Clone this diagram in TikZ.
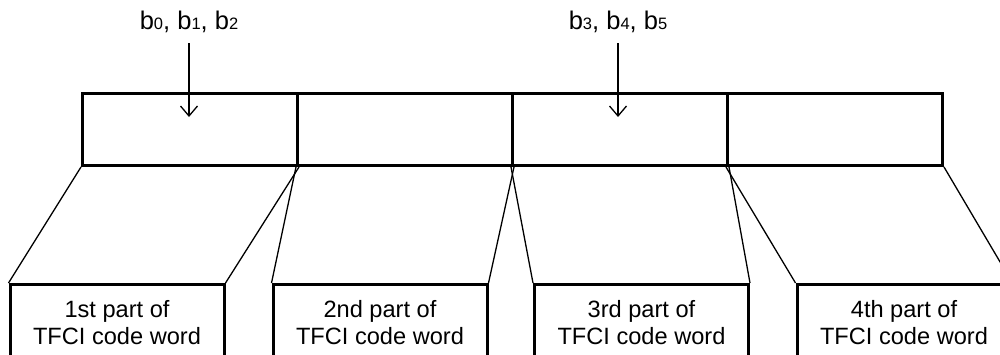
\documentclass[tikz,border=0pt]{standalone}
\usepackage{fontspec}
\setmainfont{Liberation Sans}
\usetikzlibrary{arrows.meta}
\newcommand\sbx[1]{{\fontsize{16.5}{16.5}\selectfont #1}}
\begin{document}
\begin{tikzpicture}[x=1pt,y=-1pt,
  part/.style={draw, line width=3pt, minimum width=215pt, minimum height=72pt, inner sep=0pt, anchor=north west},
  piece/.style={draw, line width=3pt, minimum width=214pt, minimum height=77pt, inner sep=0pt, anchor=north,
    align=center, font=\fontsize{23.6}{27}\selectfont},
  lab/.style={inner sep=0pt, anchor=base, font=\fontsize{25.5}{28}\selectfont},
  thin/.style={line width=1.3pt},
  arr/.style={line width=1.3pt, -{Straight Barb[length=10pt,width=17pt,line width=1.3pt]}}]
\clip (0,0) rectangle (1000,354);
% top row
\node[part] (t1) at (81,92) {};
\node[part] (t2) at (296,92) {};
\node[part] (t3) at (511,92) {};
\node[part] (t4) at (726,92) {};
% bottom pieces
\node[piece] (p1) at (117,283) {1st part of\\TFCI code word};
\node[piece] (p2) at (380,283) {2nd part of\\TFCI code word};
\node[piece] (p3) at (641.5,283) {3rd part of\\TFCI code word};
\node[piece] (p4) at (904,283) {4th part of\\TFCI code word};
% diagonals
\foreach \i in {1,2,3,4}{
  \draw[thin] (t\i.south west) -- (p\i.north west);
  \draw[thin] (t\i.south east) -- (p\i.north east);
}
% labels and arrows
\node[lab] (l1) at (189,29) {b\sbx{0}, b\sbx{1}, b\sbx{2}};
\node[lab] (l2) at (618,29) {b\sbx{3}, b\sbx{4}, b\sbx{5}};
\coordinate (s1) at (189,43);
\coordinate (e1) at (189,117);
\coordinate (s2) at (618,43);
\coordinate (e2) at (618,117);
\draw[arr] (s1) -- (e1);
\draw[arr] (s2) -- (e2);
\end{tikzpicture}
\end{document}
